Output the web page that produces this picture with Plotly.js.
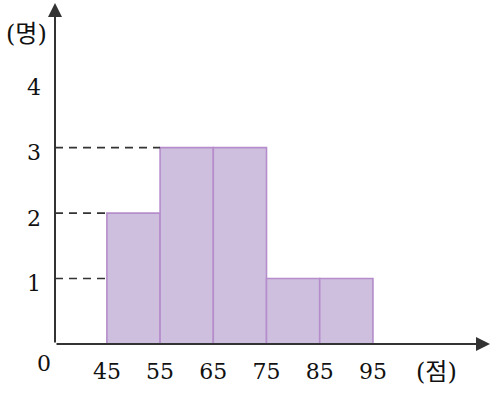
<!DOCTYPE html>
<html>
<head>
<meta charset="utf-8">
<script src="https://cdn.plot.ly/plotly-3.0.1.min.js"></script>
<style>html,body{margin:0;padding:0;background:#fff;}#chart{width:493px;height:393px;}</style>
</head>
<body>
<div id="chart"></div>
<script>
// Data
const binEdges = [45, 55, 65, 75, 85, 95];
const counts = [2, 3, 3, 1, 1];
const yTicks = [1, 2, 3, 4];
const xTickLabels = ['45', '55', '65', '75', '85', '95'];
const yUnit = '(명)';
const xUnit = '(점)';

const xMin = 35.25, xMax = 117.0;
const yMin = 0, yMax = 5.21;

const centers = counts.map((c, i) => (binEdges[i] + binEdges[i + 1]) / 2);
const widths = counts.map((c, i) => binEdges[i + 1] - binEdges[i]);

const serif = "'DejaVu Serif', serif";
const unitFont = "'DejaVu Serif', 'Noto Sans CJK KR', serif";
const axisColor = '#333333';

const levels = [...new Set(counts)].sort((a, b) => a - b);
const shapes = levels.map(lv => {
  const idx = counts.findIndex(c => c >= lv);
  return {
    type: 'line', xref: 'x', yref: 'y',
    x0: xMin, x1: binEdges[idx], y0: lv, y1: lv,
    line: {color: axisColor, width: 1.6, dash: '8px,6px'}
  };
});

const trace = {
  type: 'bar',
  x: centers,
  y: counts,
  width: widths,
  marker: {color: '#cfbfdf', line: {color: '#b58dcb', width: 1.6}},
  hoverinfo: 'none'
};

const annotations = [
  {x: xMax, y: 0, ax: xMin, ay: 0, xref: 'x', yref: 'y', axref: 'x', ayref: 'y',
   showarrow: true, arrowhead: 2, arrowsize: 1.4, arrowwidth: 2, arrowcolor: axisColor, text: ''},
  {x: xMin, y: yMax, ax: xMin, ay: 0, xref: 'x', yref: 'y', axref: 'x', ayref: 'y',
   showarrow: true, arrowhead: 2, arrowsize: 1.4, arrowwidth: 2, arrowcolor: axisColor, text: ''},
  {x: 44, y: 364, text: '0', showarrow: false,
   font: {family: serif, size: 22, color: '#111'}},
  {x: 26, y: 34, text: yUnit, showarrow: false,
   font: {family: unitFont, size: 24, color: '#111'}},
  {x: 436, y: 373, text: xUnit, showarrow: false,
   font: {family: unitFont, size: 24, color: '#111'}}
];
const W = 493, H = 393, mL = 55, mR = 3, mT = 3, mB = 48.5;
annotations.slice(2).forEach(a => {
  const px = a.x, py = a.y;
  a.xref = 'paper'; a.yref = 'paper';
  a.x = (px - mL) / (W - mL - mR);
  a.y = 1 - (py - mT) / (H - mT - mB);
  a.xanchor = 'center'; a.yanchor = 'middle';
});

const layout = {
  width: W, height: H,
  margin: {l: mL, r: mR, t: mT, b: mB, pad: 0},
  paper_bgcolor: '#fff', plot_bgcolor: '#fff',
  showlegend: false,
  xaxis: {
    range: [xMin, xMax], showgrid: false, zeroline: false, showline: false,
    tickmode: 'array', tickvals: binEdges, ticktext: xTickLabels, ticks: '',
    ticklabelstandoff: 12,
    tickfont: {family: serif, size: 22, color: '#111'}
  },
  yaxis: {
    range: [yMin, yMax], showgrid: false, zeroline: false, showline: false,
    tickmode: 'array', tickvals: yTicks, ticktext: yTicks.map(String), ticks: '',
    ticklabelstandoff: 13, ticklabelshift: 5,
    tickfont: {family: serif, size: 22, color: '#111'}
  },
  shapes: shapes,
  annotations: annotations
};

Plotly.newPlot('chart', [trace], layout, {staticPlot: true, displayModeBar: false});
</script>
</body>
</html>
